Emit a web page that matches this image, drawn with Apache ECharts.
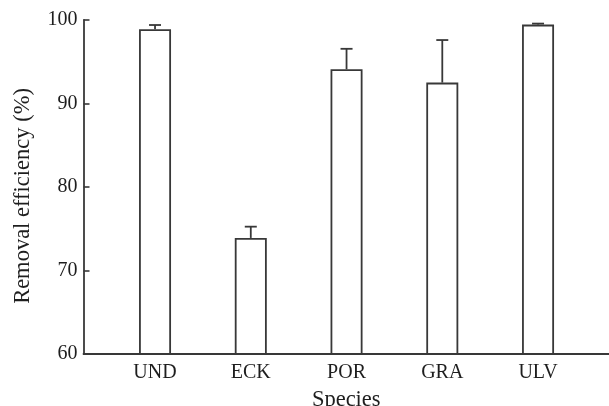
<!DOCTYPE html>
<html>
<head>
<meta charset="utf-8">
<script src="https://cdn.jsdelivr.net/npm/echarts@6/dist/echarts.min.js"></script>
<style>html,body{margin:0;padding:0;background:#fff;}#c{width:609px;height:406px;}</style>
</head>
<body>
<div id="c"></div>
<script>
const categories = ['UND', 'ECK', 'POR', 'GRA', 'ULV'];
const removalEfficiency = [98.9, 73.9, 94.1, 92.5, 99.45];
const errorUpper = [0.5, 1.35, 2.45, 5.1, 0.12];
const yTicks = [60, 70, 80, 90, 100];

const lineColor = '#383838';
const font = 'Liberation Serif, Times New Roman, serif';
const positions = categories.map((c, i) => i);

const chart = echarts.init(document.getElementById('c'), null, {renderer: 'canvas'});
chart.setOption({
  backgroundColor: '#ffffff',
  animation: false,
  grid: {left: 83.5, right: 0, top: 20, bottom: 52, containLabel: false, outerBoundsMode: 'none'},
  xAxis: {
    type: 'value',
    min: -0.747,
    max: 4.741,
    name: 'Species',
    nameLocation: 'middle',
    nameGap: 35,
    nameTextStyle: {fontFamily: font, fontSize: 22.5, color: '#1e1e1e'},
    axisLine: {show: true, onZero: false, lineStyle: {color: lineColor, width: 1.8}},
    axisTick: {show: true, inside: true, length: 6, customValues: positions, lineStyle: {color: lineColor, width: 1.6}},
    axisLabel: {show: true, customValues: positions, margin: 9, fontFamily: font, fontSize: 20, color: '#1e1e1e',
      formatter: v => categories[Math.round(v)] || ''},
    splitLine: {show: false}
  },
  yAxis: {
    type: 'value',
    min: yTicks[0],
    max: yTicks[yTicks.length - 1],
    interval: 10,
    name: 'Removal efficiency (%)',
    nameLocation: 'middle',
    nameGap: 49,
    nameTextStyle: {fontFamily: font, fontSize: 22.5, color: '#1e1e1e', padding: [0, 18, 0, 0]},
    axisLine: {show: true, onZero: false, lineStyle: {color: lineColor, width: 1.8}},
    axisTick: {show: true, inside: true, length: 6, lineStyle: {color: lineColor, width: 1.6}},
    axisLabel: {margin: 6, fontFamily: font, fontSize: 20, color: '#1e1e1e'},
    splitLine: {show: false}
  },
  series: [
    {
      type: 'bar',
      barWidth: 32,
      clip: true,
      data: removalEfficiency.map((v, i) => [positions[i], v]),
      itemStyle: {color: '#ffffff', borderColor: lineColor, borderWidth: 1.8},
      z: 2
    },
    {
      type: 'custom',
      z: 3,
      data: removalEfficiency.map((v, i) => [positions[i], v, v + errorUpper[i]]),
      renderItem: function (params, api) {
        const x = api.value(0);
        const p0 = api.coord([x, api.value(1)]);
        const p1 = api.coord([x, api.value(2)]);
        const hw = 6;
        const style = {stroke: lineColor, lineWidth: 1.8, fill: null};
        return {
          type: 'group',
          children: [
            {type: 'line', shape: {x1: p0[0], y1: p0[1], x2: p1[0], y2: p1[1]}, style: style},
            {type: 'line', shape: {x1: p1[0] - hw, y1: p1[1], x2: p1[0] + hw, y2: p1[1]}, style: style}
          ]
        };
      }
    }
  ]
});
</script>
</body>
</html>
